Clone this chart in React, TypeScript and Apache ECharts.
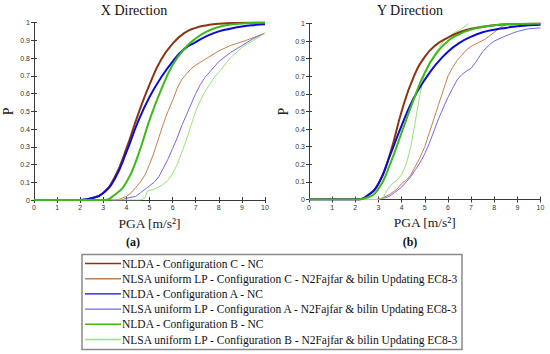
import React, { useEffect, useRef } from "react";
import * as echarts from "echarts";

type Pt = [number, number];

const seriesNames = [
  "NLDA - Configuration C - NC",
  "NLSA uniform LP - Configuration C - N2Fajfar & bilin Updating EC8-3",
  "NLDA - Configuration A - NC",
  "NLSA uniform LP - Configuration A - N2Fajfar & bilin Updating EC8-3",
  "NLDA - Configuration B - NC",
  "NLSA uniform LP - Configuration B - N2Fajfar & bilin Updating EC8-3",
];
const seriesColors = ["#8a3512", "#c27e4c", "#0c0cd2", "#7468e0", "#3dba18", "#98e27a"];
const seriesWidths = [2, 1, 2, 1, 2, 1];
const seriesSmooth = [true, false, true, false, true, false];

const panelTitles = ["X Direction", "Y Direction"];
const panelLabels = ["(a)", "(b)"];
const xTicks = [0, 1, 2, 3, 4, 5, 6, 7, 8, 9, 10];

// X direction
const xNldaC: Pt[] = [[0, 0], [2, 0], [2.5, 0.01], [3, 0.04], [3.5, 0.13], [4, 0.29], [4.5, 0.48], [5, 0.65], [5.5, 0.79], [6, 0.88], [6.5, 0.94], [7, 0.97], [7.5, 0.985], [8, 0.993], [9, 0.998], [10, 1]];
const xNlsaC: Pt[] = [[0, 0], [3.6, 0], [3.8, 0.01], [4.0, 0.02], [4.2, 0.04], [4.4, 0.07], [4.6, 0.1], [4.8, 0.14], [5.0, 0.2], [5.2, 0.27], [5.4, 0.35], [5.6, 0.43], [5.8, 0.5], [6.0, 0.56], [6.2, 0.63], [6.4, 0.68], [6.6, 0.71], [6.8, 0.74], [7.0, 0.76], [7.5, 0.8], [8.0, 0.84], [8.5, 0.87], [9.2, 0.9], [9.6, 0.92], [10, 0.94]];
const xNldaA: Pt[] = [[0, 0], [2, 0], [2.5, 0.01], [3, 0.04], [3.5, 0.12], [4, 0.27], [4.5, 0.44], [5, 0.58], [5.5, 0.69], [6, 0.78], [6.5, 0.85], [7, 0.89], [7.5, 0.925], [8, 0.95], [8.5, 0.965], [9, 0.977], [9.5, 0.985], [10, 0.99]];
const xNlsaA: Pt[] = [[0, 0], [3.8, 0], [4.0, 0.01], [4.4, 0.02], [4.6, 0.04], [4.8, 0.06], [5.0, 0.08], [5.2, 0.1], [5.4, 0.13], [5.6, 0.18], [5.8, 0.23], [6.0, 0.29], [6.2, 0.35], [6.4, 0.42], [6.6, 0.48], [6.8, 0.54], [7.0, 0.6], [7.2, 0.65], [7.4, 0.69], [7.6, 0.72], [7.8, 0.75], [8.0, 0.78], [8.5, 0.83], [9.0, 0.87], [9.5, 0.91], [10, 0.94]];
const xNldaB: Pt[] = [[0, 0], [3, 0], [3.5, 0.03], [4, 0.1], [4.5, 0.25], [5, 0.45], [5.5, 0.62], [6, 0.76], [6.5, 0.85], [7, 0.91], [7.5, 0.95], [8, 0.975], [8.5, 0.988], [9, 0.995], [10, 1]];
const xNlsaB: Pt[] = [[0, 0], [4.6, 0], [4.8, 0.01], [4.9, 0.05], [5.2, 0.06], [5.5, 0.08], [5.8, 0.11], [6.0, 0.15], [6.2, 0.2], [6.4, 0.27], [6.6, 0.34], [6.8, 0.42], [7.0, 0.5], [7.2, 0.56], [7.4, 0.61], [7.6, 0.65], [7.8, 0.69], [8.0, 0.72], [8.5, 0.8], [9.0, 0.86], [9.5, 0.9], [10, 0.94]];

// Y direction
const yNldaC: Pt[] = [[0, 0], [2, 0], [2.5, 0.02], [3, 0.09], [3.5, 0.26], [4, 0.5], [4.5, 0.69], [5, 0.81], [5.5, 0.88], [6, 0.92], [6.5, 0.95], [7, 0.97], [8, 0.99], [9, 0.997], [10, 1]];
const yNlsaC: Pt[] = [[0, 0], [2.9, 0], [3.2, 0.01], [3.5, 0.03], [3.8, 0.06], [4.0, 0.09], [4.2, 0.11], [4.4, 0.14], [4.6, 0.19], [4.8, 0.24], [5.0, 0.3], [5.2, 0.38], [5.4, 0.46], [5.6, 0.54], [5.8, 0.62], [6.0, 0.7], [6.2, 0.75], [6.4, 0.79], [6.6, 0.82], [6.8, 0.85], [7.0, 0.87], [7.3, 0.89], [7.6, 0.91], [8.0, 0.95], [8.3, 0.98], [8.6, 1]];
const yNldaA: Pt[] = [[0, 0], [2, 0], [2.5, 0.02], [3, 0.09], [3.5, 0.25], [4, 0.42], [4.5, 0.57], [5, 0.68], [5.5, 0.77], [6, 0.84], [6.5, 0.89], [7, 0.925], [7.5, 0.95], [8, 0.965], [8.5, 0.975], [9, 0.985], [10, 0.993]];
const yNlsaA: Pt[] = [[0, 0], [2.9, 0], [3.3, 0.01], [3.5, 0.02], [3.7, 0.04], [4.0, 0.07], [4.2, 0.1], [4.4, 0.13], [4.6, 0.17], [4.8, 0.21], [5.0, 0.26], [5.2, 0.32], [5.4, 0.39], [5.6, 0.46], [5.8, 0.52], [6.0, 0.58], [6.2, 0.63], [6.4, 0.68], [6.6, 0.71], [6.8, 0.73], [7.0, 0.745], [7.2, 0.78], [7.5, 0.84], [7.8, 0.88], [8.0, 0.9], [8.5, 0.93], [9.0, 0.955], [9.5, 0.97], [10, 0.975]];
const yNldaB: Pt[] = [[0, 0], [2, 0], [2.5, 0.01], [3, 0.06], [3.5, 0.2], [4, 0.38], [4.5, 0.56], [5, 0.72], [5.5, 0.83], [6, 0.9], [6.5, 0.94], [7, 0.965], [7.5, 0.98], [8, 0.99], [9, 0.997], [10, 1]];
const yNlsaB: Pt[] = [[0, 0], [3.0, 0], [3.2, 0.01], [3.4, 0.06], [3.6, 0.09], [3.8, 0.11], [4.0, 0.14], [4.2, 0.2], [4.4, 0.3], [4.6, 0.45], [4.8, 0.6], [5.0, 0.72], [5.2, 0.78], [5.4, 0.82], [5.6, 0.86], [5.8, 0.9], [6.0, 0.92], [6.3, 0.95], [6.6, 0.97], [6.8, 0.99], [6.9, 1]];

const panelData: Pt[][][] = [
  [xNldaC, xNlsaC, xNldaA, xNlsaA, xNldaB, xNlsaB],
  [yNldaC, yNlsaC, yNldaA, yNlsaA, yNldaB, yNlsaB],
];

const SERIF = "'Liberation Serif', 'DejaVu Serif', serif";
const SANS = "'Liberation Sans', Arial, sans-serif";

export default function App() {
  const ref = useRef<HTMLDivElement>(null);

  useEffect(() => {
    if (!ref.current) return;
    const chart = echarts.init(ref.current, undefined, { renderer: "svg" });

    const grids = [
      { left: 30, top: 22.5, width: 235, height: 177.5 },
      { left: 309, top: 23.5, width: 231.5, height: 176 },
    ];

    const axisLineStyle = { color: "#3a3a3a", width: 1 };
    const xAxes: any[] = [];
    const yAxes: any[] = [];
    [0, 1].forEach((g) => {
      xAxes.push({
        type: "value",
        gridIndex: g,
        min: 0,
        max: 10,
        interval: 1,
        position: "bottom",
        axisLine: { show: true, lineStyle: axisLineStyle },
        axisTick: { show: true, inside: true, length: 3, lineStyle: axisLineStyle },
        axisLabel: {
          fontSize: 7,
          color: "#333",
          fontFamily: SANS,
          margin: 4,
          formatter: (v: number) => (xTicks.includes(v) ? String(v) : ""),
        },
        splitLine: { show: false },
        name: "PGA [m/s²]",
        nameLocation: "middle",
        nameGap: 16,
        nameTextStyle: { fontSize: 13.5, color: "#222", fontFamily: SERIF },
      });
      xAxes.push({
        type: "value",
        gridIndex: g,
        min: 0,
        max: 10,
        interval: 1,
        position: "top",
        axisLine: { show: true, lineStyle: axisLineStyle },
        axisTick: { show: true, inside: true, length: 3, lineStyle: axisLineStyle },
        axisLabel: { show: false },
        splitLine: { show: false },
      });
      yAxes.push({
        type: "value",
        gridIndex: g,
        min: 0,
        max: 1,
        interval: 0.1,
        position: "left",
        axisLine: { show: true, lineStyle: axisLineStyle },
        axisTick: { show: true, inside: true, length: 3, lineStyle: axisLineStyle },
        axisLabel: {
          fontSize: 7,
          color: "#333",
          fontFamily: SANS,
          margin: 4,
          formatter: (v: number) => String(Math.round(v * 10) / 10),
        },
        splitLine: { show: false },
        name: "P",
        nameLocation: "middle",
        nameGap: 19,
        nameTextStyle: { fontSize: 14, color: "#222", fontFamily: SERIF },
      });
      yAxes.push({
        type: "value",
        gridIndex: g,
        min: 0,
        max: 1,
        interval: 0.1,
        position: "right",
        axisLine: { show: true, lineStyle: axisLineStyle },
        axisTick: { show: true, inside: true, length: 3, lineStyle: axisLineStyle },
        axisLabel: { show: false },
        splitLine: { show: false },
      });
    });

    const series: any[] = [];
    [0, 1].forEach((g) => {
      seriesNames.forEach((name, i) => {
        series.push({
          type: "line",
          name,
          xAxisIndex: g * 2,
          yAxisIndex: g * 2,
          data: panelData[g][i],
          symbol: "none",
          showSymbol: false,
          smooth: seriesSmooth[i] ? 0.5 : false,
          lineStyle: { color: seriesColors[i], width: seriesWidths[i] },
          itemStyle: { color: seriesColors[i] },
          z: seriesWidths[i] === 2 ? 3 : 2,
        });
      });
    });

    const option: any = {
      animation: false,
      backgroundColor: "#ffffff",
      grid: grids,
      xAxis: xAxes,
      yAxis: yAxes,
      series,
      legend: {
        data: seriesNames.map((name, i) => ({
          name,
          icon: "rect",
          itemStyle: { color: seriesColors[i] },
        })),
        orient: "vertical",
        left: 85,
        top: 257.5,
        padding: 0,
        itemWidth: 36,
        itemHeight: 1.4,
        itemGap: 3.2,
        textStyle: { fontSize: 11.5, color: "#111", fontFamily: SERIF, lineHeight: 12, padding: [0, 0, 0, -4] },
        selectedMode: false,
      },
      graphic: [
        {
          type: "rect",
          shape: { x: 82, y: 254.5, width: 380, height: 95 },
          style: { fill: "none", stroke: "#8a8a8a", lineWidth: 1.5 },
        },
        {
          type: "text",
          x: 134,
          y: 10,
          style: { text: panelTitles[0], fontSize: 14, fontFamily: SERIF, fill: "#111", align: "center", verticalAlign: "middle" },
        },
        {
          type: "text",
          x: 410,
          y: 10,
          style: { text: panelTitles[1], fontSize: 14, fontFamily: SERIF, fill: "#111", align: "center", verticalAlign: "middle" },
        },
        {
          type: "text",
          x: 133,
          y: 242,
          style: { text: panelLabels[0], fontSize: 12, fontWeight: "bold", fontFamily: SERIF, fill: "#111", align: "center", verticalAlign: "middle" },
        },
        {
          type: "text",
          x: 410,
          y: 242,
          style: { text: panelLabels[1], fontSize: 12, fontWeight: "bold", fontFamily: SERIF, fill: "#111", align: "center", verticalAlign: "middle" },
        },
      ],
    };

    chart.setOption(option);
    return () => chart.dispose();
  }, []);

  return <div ref={ref} style={{ width: 550, height: 354, position: "absolute", left: 0, top: 0 }} />;
}
